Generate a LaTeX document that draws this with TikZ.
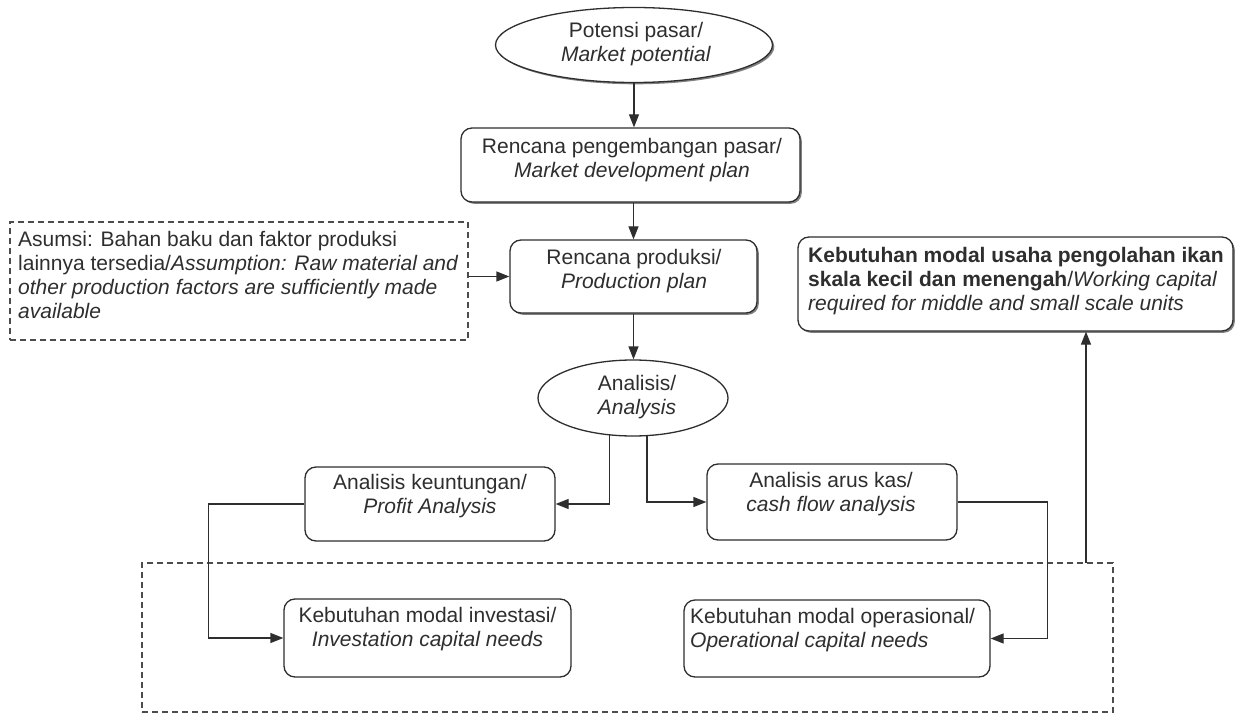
\documentclass[tikz,border=0pt]{standalone}
\usepackage{fontspec}
\setmainfont{Liberation Sans}
\usetikzlibrary{arrows.meta,shapes.geometric,shadows,calc}
\begin{document}
\begin{tikzpicture}[x=1pt,y=-1pt,
  ln/.style={line width=1.3pt, draw=black!82},
  arr/.style={ln, -{Triangle[length=13pt,width=10pt]}},
  box/.style={ln, rounded corners=11pt, fill=white, inner sep=0pt},
  shbox/.style={box, drop shadow={shadow xshift=1.8pt, shadow yshift=-1.8pt, fill=black!50, opacity=1}},
  oval/.style={ln, ellipse, fill=white, inner sep=0pt},
  dbox/.style={line width=1.2pt, draw=black!70, dash pattern=on 6pt off 4pt, inner sep=0pt},
  txt/.style={font=\fontsize{21}{24}\selectfont, text=black!82, inner sep=0pt, align=center},
  ltxt/.style={txt, align=left, anchor=north west}
]
\useasboundingbox (0,0) rectangle (1240,714);

% group dashed box
\node[dbox, minimum width=971pt, minimum height=149pt] (group) at (627.5,637.5) {};

% top ellipse
\node[oval, minimum width=277pt, minimum height=75pt,
  drop shadow={shadow xshift=1.8pt, shadow yshift=-1.8pt, fill=black!50, opacity=1}] (pot) at (634,45) {};
\node[txt] (pott) at (636,44) {Potensi pasar/\\\textit{Market potential}};

% market development plan
\node[shbox, minimum width=339pt, minimum height=74pt] (mdp) at (630.5,165) {};
\node[txt] (mdpt) at (632,160) {Rencana pengembangan pasar/\\\textit{Market development plan}};

% production plan
\node[shbox, minimum width=247pt, minimum height=73pt] (prod) at (633.5,276.5) {};
\node[txt] (prodt) at (634,271) {Rencana produksi/\\\textit{Production plan}};

% assumption
\node[dbox, minimum width=458pt, minimum height=118pt] (asumsi) at (239,281) {};
\node[ltxt] (asumsit) at (18,231) {Asumsi: Bahan baku dan faktor produksi\\
lainnya tersedia/\textit{Assumption: Raw material and}\\
\textit{other production factors are sufficiently made}\\
\textit{available}};

% analysis ellipse
\node[oval, minimum width=190pt, minimum height=76pt] (ana) at (633,398) {};
\node[txt] (anat) at (637,397) {Analisis/\\\textit{Analysis}};

% profit
\node[box, minimum width=250pt, minimum height=74pt] (profit) at (430,504) {};
\node[txt] (profitt) at (430,496) {Analisis keuntungan/\\\textit{Profit Analysis}};

% cash flow
\node[box, minimum width=250pt, minimum height=76pt] (cash) at (832,502) {};
\node[txt] (casht) at (831,494.5) {Analisis arus kas/\\\textit{cash flow analysis}};

% investment
\node[box, minimum width=287pt, minimum height=78pt] (inv) at (427.5,638) {};
\node[txt] (invt) at (427.5,629.5) {Kebutuhan modal investasi/\\\textit{Investation capital needs}};

% operational
\node[box, minimum width=306pt, minimum height=77pt] (op) at (837,638.5) {};
\node[ltxt] (opt) at (690,608) {Kebutuhan modal operasional/\\\textit{Operational capital needs}};

% working capital
\node[shbox, minimum width=435pt, minimum height=94pt] (wc) at (1015.5,284) {};
\node[ltxt] (wct) at (808,247) {\textbf{Kebutuhan modal usaha pengolahan ikan}\\
\textbf{skala kecil dan menengah}/\textit{Working capital}\\
\textit{required for middle and small scale units}};

% connectors
\draw[arr] (pot.south) -- (pot.south |- mdp.north);
\draw[arr] (prod.north |- mdp.south) -- (prod.north);
\draw[arr] (asumsi.east |- prod.west) -- (prod.west);
\draw[arr] (prod.south) -- (prod.south |- ana.north);
\draw[arr] (ana.-122) |- (profit.east);
\draw[arr] (ana.-70) |- (cash.west);
\draw[arr] (profit.west) -- ++(-96,0) |- (inv.west);
\draw[arr] (cash.east) -- ++(90,0) |- (op.east);
\coordinate (wcfoot) at (1086,563);
\draw[arr] (wcfoot) -- (wcfoot |- wc.south);
\end{tikzpicture}
\end{document}
